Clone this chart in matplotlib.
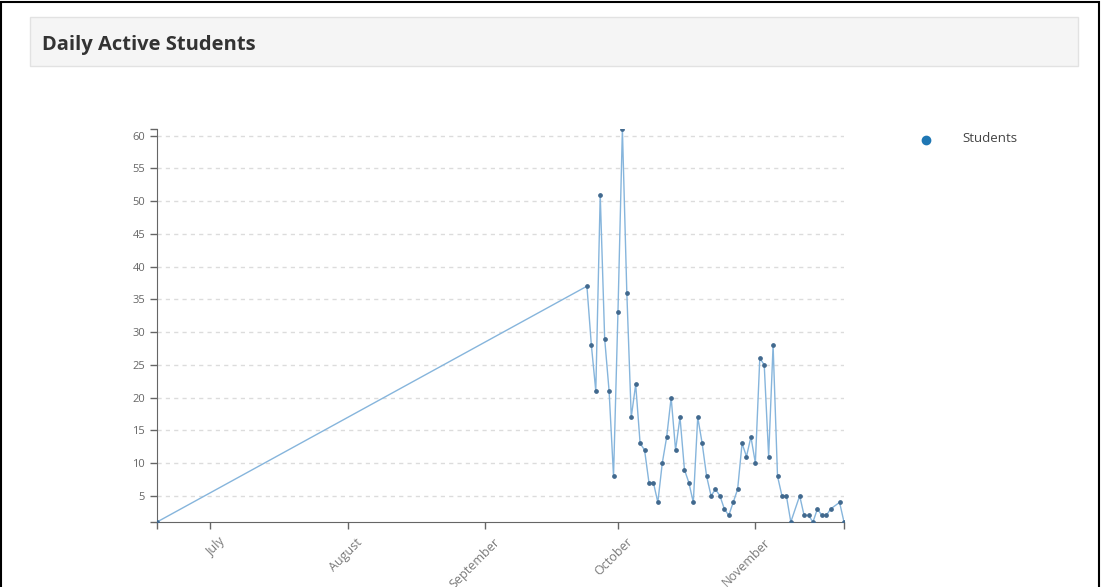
import pandas as pd
import matplotlib.pyplot as plt
from matplotlib.patches import Rectangle
from matplotlib.lines import Line2D
from matplotlib.transforms import ScaledTranslation

plt.rcParams['font.family'] = ['Open Sans', 'DejaVu Sans']

# daily active students (month-day, 2017)
days = ['06-19',
        '09-24', '09-25', '09-26', '09-27', '09-28', '09-29', '09-30',
        '10-01', '10-02', '10-03', '10-04', '10-05', '10-06', '10-07', '10-08',
        '10-09', '10-10', '10-11', '10-12', '10-13', '10-14', '10-15', '10-16',
        '10-17', '10-18', '10-19', '10-20', '10-21', '10-22', '10-23', '10-24',
        '10-25', '10-26', '10-27', '10-28', '10-29', '10-30', '10-31',
        '11-01', '11-02', '11-03', '11-04', '11-05', '11-06', '11-07', '11-08',
        '11-09', '11-11', '11-12', '11-13', '11-14', '11-15', '11-16', '11-17',
        '11-18', '11-20', '11-21']
students = [1,
            37, 28, 21, 51, 29, 21, 8,
            33, 61, 36, 17, 22, 13, 12, 7,
            7, 4, 10, 14, 20, 12, 17, 9,
            7, 4, 17, 13, 8, 5, 6, 5,
            3, 2, 4, 6, 13, 11, 14,
            10, 26, 25, 11, 28, 8, 5, 5,
            1, 5, 2, 2, 1, 3, 2, 2,
            3, 4, 1]

month_ticks = ['2017-07-01', '2017-08-01', '2017-09-01', '2017-10-01', '2017-11-01']
month_labels = ['July', 'August', 'September', 'October', 'November']
y_ticks = [5, 10, 15, 20, 25, 30, 35, 40, 45, 50, 55, 60]

dates = pd.to_datetime(['2017-' + d for d in days])

fig = plt.figure(figsize=(11.01, 5.87), dpi=100)

# page frame and panel header
fig.add_artist(Rectangle((1 / 1101, -0.1), 1098 / 1101, 1.1 - 1.5 / 587,
                         transform=fig.transFigure, fill=False,
                         edgecolor='black', linewidth=1.5))
fig.add_artist(Rectangle((30 / 1101, 1 - 66 / 587), 1048 / 1101, 49 / 587,
                         transform=fig.transFigure, facecolor='#f5f5f5',
                         edgecolor='#e2e2e2', linewidth=1))
fig.text(42 / 1101, 1 - 45 / 587, 'Daily Active Students', fontsize=14.5,
         fontweight='bold', color='#333333', va='center', ha='left')

ax = fig.add_axes([157 / 1101, 1 - 522 / 587, 687 / 1101, 393 / 587])
ax.plot(dates, students, color='#86b5dc', linewidth=1, zorder=3)
ax.plot(dates, students, linestyle='none', marker='o', markersize=2.4,
        color='#41698e', zorder=4)

ax.set_xlim(dates[0], dates[-1])
ax.set_ylim(1, 61)
ax.set_yticks(y_ticks)
ax.set_yticks([1, 61], minor=True)
ax.set_xticks(pd.to_datetime(month_ticks))
ax.set_xticklabels(month_labels, rotation=45, ha='right', rotation_mode='anchor')
ax.set_xticks([dates[0], dates[-1]], minor=True)

ax.yaxis.grid(True, color='#dcdcdc', linestyle=(0, (3, 3)), linewidth=1)
ax.set_axisbelow(True)
for s in ['top', 'right']:
    ax.spines[s].set_visible(False)
for s in ['left', 'bottom']:
    ax.spines[s].set_color('#666666')
ax.tick_params(which='both', length=5, width=1, color='#666666',
               labelcolor='#666666', labelsize=8)
ax.tick_params(axis='x', labelcolor='#7a7a7a', labelsize=9, pad=4)
shift = ScaledTranslation(0.08, -0.01, fig.dpi_scale_trans)
for lab in ax.get_xticklabels():
    lab.set_transform(lab.get_transform() + shift)

# legend
fig.add_artist(Line2D([926 / 1101], [1 - 140 / 587], marker='o', markersize=6,
                      color='#1f77b4', transform=fig.transFigure))
fig.text(962 / 1101, 1 - 139 / 587, 'Students', fontsize=9.5, color='#444444',
         va='center', ha='left')

fig.savefig('out.png', dpi=100)
